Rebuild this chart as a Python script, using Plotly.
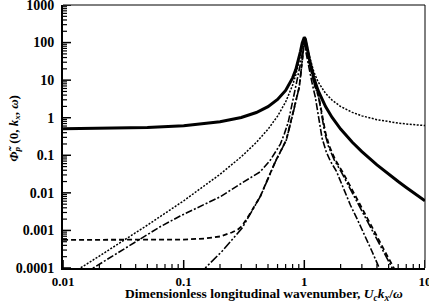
import plotly.graph_objects as go

# Thick solid curve
solid_x = [0.01, 0.02, 0.05, 0.1, 0.2, 0.3, 0.4, 0.5, 0.6, 0.7, 0.8, 0.85, 0.9, 0.93, 0.96, 0.98, 1.0,
           1.02, 1.04, 1.07, 1.1, 1.15, 1.2, 1.3, 1.5, 1.7, 2, 2.5, 3, 4, 5, 6, 7, 8, 10]
solid_y = [0.508, 0.519, 0.552, 0.615, 0.777, 1.013, 1.375, 1.972, 3.06, 5.34, 11.5, 19.2, 36.8, 58.8, 96.2, 125, 139,
           125, 96.2, 58.8, 36.8, 19.2, 11.5, 5.34, 1.972, 1.013, 0.498, 0.222, 0.125, 0.0555, 0.0312, 0.0200, 0.0139, 0.0102, 0.00617]

# Fine dotted curve
dot_x = [0.01, 0.014, 0.02, 0.05, 0.1, 0.2, 0.3, 0.4, 0.5, 0.6, 0.7, 0.8, 0.85, 0.9, 0.93, 0.96, 0.98, 1.0,
         1.02, 1.04, 1.07, 1.1, 1.15, 1.2, 1.3, 1.5, 1.7, 2, 2.5, 3, 4, 5, 6, 7, 8, 10]
dot_y = [5.1e-5, 1.0e-4, 2.08e-4, 1.38e-3, 6.15e-3, 0.0311, 0.0912, 0.220, 0.493, 1.10, 2.62, 7.36, 13.9, 29.8, 50.9, 88.7, 120, 139,
         130, 104, 67.3, 44.5, 25.4, 16.6, 9.02, 4.44, 2.93, 1.99, 1.39, 1.12, 0.888, 0.78, 0.72, 0.681, 0.653, 0.617]

# Dash-dot curve
dd_x = [0.01, 0.0178, 0.0297, 0.0436, 0.0638, 0.0935, 0.137, 0.201, 0.294, 0.431, 0.523, 0.633, 0.682, 0.736, 0.815,
        0.875, 0.927, 0.973, 1.0, 1.039, 1.100, 1.165, 1.234, 1.307, 1.403, 1.522, 1.644, 1.843, 2.108, 2.409, 2.754,
        3.148, 3.597, 4.136, 4.52]
dd_y = [3.2e-5, 1.0e-4, 2.78e-4, 5.94e-4, 1.25e-3, 2.42e-3, 4.46e-3, 7.87e-3, 0.0171, 0.0364, 0.0745, 0.199, 0.366, 0.764, 3.60,
        10.0, 26.7, 62.8, 100, 49.1, 18.5, 7.83, 3.53, 1.17, 0.287, 0.122, 0.0701, 0.0380, 0.0138, 4.74e-3, 1.95e-3,
        8.02e-4, 3.01e-4, 1.08e-4, 5.8e-5]

# Steep long-dash-dot-dot curve
st_x = [0.13, 0.151, 0.209, 0.304, 0.431, 0.574, 0.709, 0.811, 0.870, 0.909, 0.962, 1.0, 1.049, 1.121, 1.211, 1.314,
        1.397, 1.480, 1.582, 1.774, 2.028, 2.409, 2.806, 3.270, 3.810, 4.440, 5.272, 5.800]
st_y = [6.2e-5, 1.0e-4, 2.83e-4, 1.14e-3, 7.87e-3, 0.0659, 0.253, 1.41, 3.60, 6.64, 34.0, 110, 55.6, 20.8, 7.83, 3.53,
        1.17, 0.389, 0.176, 0.0745, 0.0357, 0.0126, 5.04e-3, 1.95e-3, 7.55e-4, 2.92e-4, 1.08e-4, 6.1e-5]

# Dashed curve
da_x = [0.01, 0.03, 0.06, 0.1, 0.15, 0.2, 0.25, 0.28, 0.304, 0.35, 0.431, 0.574, 0.709, 0.811, 0.870, 0.909, 0.962, 1.0,
        1.049, 1.121, 1.211, 1.32, 1.41, 1.50, 1.61, 1.81, 2.08, 2.48, 2.90, 3.38, 3.95, 4.61, 5.47, 6.0]
da_y = [5.6e-4, 5.6e-4, 5.6e-4, 5.7e-4, 6.1e-4, 6.9e-4, 8.8e-4, 1.05e-3, 1.3e-3, 2.6e-3, 8.0e-3, 0.067, 0.256, 1.42, 3.62, 6.66, 34, 110,
        55.6, 20.8, 7.83, 3.53, 1.17, 0.389, 0.176, 0.0745, 0.0357, 0.0126, 5.04e-3, 1.95e-3, 7.55e-4, 2.92e-4, 1.08e-4, 6.1e-5]

x_ticks = [0.01, 0.1, 1, 10]
x_labels = ["0.01", "0.1", "1", "10"]
y_ticks = [1e-4, 1e-3, 1e-2, 1e-1, 1, 10, 100, 1000]
y_labels = ["0.0001", "0.001", "0.01", "0.1", "1", "10", "100", "1000"]
minor_digits = [2, 3, 4, 5, 6, 7, 8, 9]

x_minor = [d * t for t in x_ticks[:-1] for d in minor_digits]
y_minor = [d * t for t in y_ticks[:-1] for d in minor_digits]

XR = [-2.0005, 1.0005]
YR = [-4.0005, 3.0005]

fig = go.Figure()
fig.add_trace(go.Scatter(x=solid_x, y=solid_y, mode="lines", line=dict(color="black", width=3)))
fig.add_trace(go.Scatter(x=dot_x, y=dot_y, mode="lines", line=dict(color="black", width=1.5, dash="2px,1.5px")))
fig.add_trace(go.Scatter(x=dd_x, y=dd_y, mode="lines", line=dict(color="black", width=1.6, dash="7px,2px,2px,2px")))
fig.add_trace(go.Scatter(x=da_x, y=da_y, mode="lines", line=dict(color="black", width=1.8, dash="5px,3px")))
fig.add_trace(go.Scatter(x=st_x, y=st_y, mode="lines", line=dict(color="black", width=1.6, dash="9px,2px,2px,2px,2px,2px")))

serif = "Liberation Serif"
fig.update_layout(
    width=429, height=302,
    margin=dict(l=63, r=4, t=5, b=34),
    paper_bgcolor="white", plot_bgcolor="white",
    showlegend=False,
    font=dict(family=serif, color="black"),
    xaxis=dict(
        type="log", range=XR, automargin=False,
        tickmode="array", tickvals=x_ticks, ticktext=x_labels,
        ticks="", showline=True, linecolor="black", linewidth=2, showgrid=False, zeroline=False,
        tickfont=dict(family=serif, size=13, weight="bold", color="black"),
        ticklabelstandoff=0, ticklabeloverflow="allow",
    ),
    yaxis=dict(
        type="log", range=YR, automargin=False,
        tickmode="array", tickvals=y_ticks, ticktext=y_labels,
        ticks="", showline=True, linecolor="black", linewidth=2, showgrid=False, zeroline=False,
        tickfont=dict(family=serif, size=14, weight="bold", color="black"),
        ticklabelstandoff=4, ticklabeloverflow="allow",
    ),
)

# tick marks drawn inside the frame (major and minor)
for v in x_ticks:
    fig.add_shape(type="line", xref="x", x0=v, x1=v, yref="paper", ysizemode="pixel", yanchor=0, y0=0, y1=8,
                  line=dict(color="black", width=1.5))
for v in x_minor:
    fig.add_shape(type="line", xref="x", x0=v, x1=v, yref="paper", ysizemode="pixel", yanchor=0, y0=0, y1=4,
                  line=dict(color="black", width=1.2))
for v in y_ticks:
    fig.add_shape(type="line", yref="y", y0=v, y1=v, xref="paper", xsizemode="pixel", xanchor=0, x0=0, x1=8,
                  line=dict(color="black", width=1.5))
for v in y_minor:
    fig.add_shape(type="line", yref="y", y0=v, y1=v, xref="paper", xsizemode="pixel", xanchor=0, x0=0, x1=4,
                  line=dict(color="black", width=1.2))

# thin top and right frame
fig.add_shape(type="line", xref="paper", yref="paper", x0=0, x1=1, y0=1, y1=1, line=dict(color="black", width=1))
fig.add_shape(type="line", xref="paper", yref="paper", x0=1, x1=1, y0=0, y1=1, line=dict(color="black", width=1))

fig.add_annotation(
    text="Dimensionless longitudinal wavenumber, <i>U<sub>c</sub>k<sub>x</sub></i>/<i>ω</i>",
    xref="paper", yref="paper", x=0.555, y=-0.102, xanchor="center", yanchor="middle",
    showarrow=False, font=dict(family=serif, size=13.5, weight="bold", color="black"),
)
fig.add_annotation(
    text="<i>Φ̃<sub>p</sub></i> (0, <i>k<sub>x</sub></i>, <i>ω</i>)",
    xref="paper", yref="paper", x=-0.135, y=0.53, xanchor="center", yanchor="middle",
    textangle=-90, showarrow=False, font=dict(family=serif, size=13, weight="bold", color="black"),
)

fig.write_html("out.html")
